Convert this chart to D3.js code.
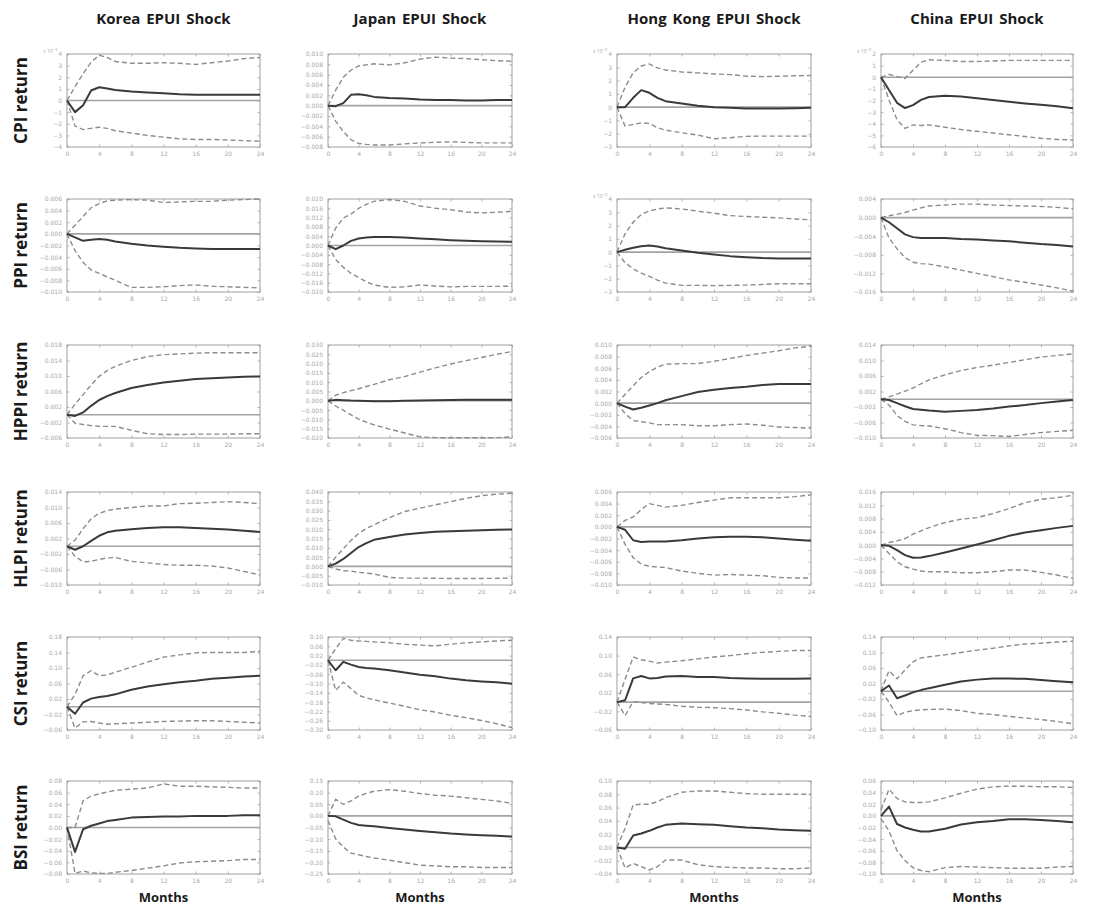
<!DOCTYPE html>
<html>
<head>
<meta charset="utf-8">
<script src="https://cdn.jsdelivr.net/npm/d3@7"></script>
<style>
  body { margin: 0; background: #fff; }
  svg text { font-family: "Open Sans", "Noto Sans", sans-serif; }
  .tick text { font-family: "DejaVu Sans", sans-serif; }
</style>
</head>
<body>
<div id="main"></div>
<script>
main = "#main"

// horizon (months) shared by every panel
const months = [0, 1, 2, 3, 4, 5, 6, 8, 10, 12, 14, 16, 18, 20, 22, 24]
const xTicks = [0, 4, 8, 12, 16, 20, 24]

const shocks = ["Korea EPUI Shock", "Japan EPUI Shock", "Hong Kong EPUI Shock", "China EPUI Shock"]
const variables = ["CPI return", "PPI return", "HPPI return", "HLPI return", "CSI return", "BSI return"]

// y axis per panel: [min, max, step, decimals]; columns Korea, Japan, Hong Kong, China
const cpiAxis = [[-4, 4, 1, 0], [-0.008, 0.010, 0.002, 3], [-3, 4, 1, 0], [-6, 2, 1, 0]]
const ppiAxis = [[-0.010, 0.006, 0.002, 3], [-0.020, 0.020, 0.004, 3], [-3, 4, 1, 0], [-0.016, 0.004, 0.004, 3]]
const hppiAxis = [[-0.006, 0.018, 0.004, 3], [-0.020, 0.030, 0.005, 3], [-0.006, 0.010, 0.002, 3], [-0.010, 0.014, 0.004, 3]]
const hlpiAxis = [[-0.010, 0.014, 0.004, 3], [-0.010, 0.040, 0.005, 3], [-0.010, 0.006, 0.002, 3], [-0.012, 0.016, 0.004, 3]]
const csiAxis = [[-0.06, 0.18, 0.04, 2], [-0.30, 0.10, 0.04, 2], [-0.06, 0.14, 0.04, 2], [-0.10, 0.14, 0.04, 2]]
const bsiAxis = [[-0.08, 0.08, 0.02, 2], [-0.25, 0.15, 0.05, 2], [-0.04, 0.10, 0.02, 2], [-0.10, 0.06, 0.02, 2]]

// panels whose axis carries a x10^-3 multiplier
const cpiSci = [true, false, true, true]
const ppiSci = [false, false, true, false]

// CPI
const cpiMid = [
  [0, -1.0, -0.4, 0.86, 1.14, 1.03, 0.9, 0.77, 0.69, 0.63, 0.54, 0.49, 0.49, 0.49, 0.49, 0.49],
  [0, -0.0001, 0.0005, 0.0021, 0.0022, 0.002, 0.0017, 0.0015, 0.0014, 0.0012, 0.0011, 0.0011, 0.001, 0.001, 0.0011, 0.0011],
  [0, 0, 0.7, 1.28, 1.08, 0.7, 0.45, 0.28, 0.1, 0, -0.05, -0.1, -0.1, -0.1, -0.08, -0.05],
  [0, -1.1, -2.2, -2.65, -2.4, -1.95, -1.7, -1.6, -1.66, -1.8, -1.95, -2.1, -2.25, -2.37, -2.5, -2.66]]
const cpiUp = [
  [0, 1.2, 2.3, 3.3, 3.9, 3.7, 3.35, 3.2, 3.2, 3.25, 3.2, 3.1, 3.25, 3.4, 3.6, 3.7],
  [0, 0.003, 0.0055, 0.0069, 0.0077, 0.0079, 0.0081, 0.0079, 0.0083, 0.009, 0.0094, 0.0092, 0.0091, 0.0089, 0.0087, 0.0086],
  [0, 1.5, 2.58, 3.1, 3.25, 2.95, 2.8, 2.65, 2.58, 2.5, 2.45, 2.33, 2.3, 2.33, 2.36, 2.38],
  [0, 0.25, 0.05, -0.1, 0.6, 1.3, 1.5, 1.45, 1.35, 1.35, 1.4, 1.45, 1.45, 1.45, 1.45, 1.45]]
const cpiLo = [
  [0, -2.2, -2.5, -2.4, -2.3, -2.4, -2.6, -2.8, -3.0, -3.15, -3.3, -3.35, -3.35, -3.4, -3.45, -3.5],
  [0, -0.003, -0.005, -0.0066, -0.0073, -0.0075, -0.0076, -0.0076, -0.0074, -0.0072, -0.0071, -0.007, -0.0071, -0.0072, -0.0072, -0.0072],
  [0, -1.43, -1.3, -1.18, -1.22, -1.55, -1.73, -1.93, -2.1, -2.38, -2.3, -2.2, -2.18, -2.18, -2.18, -2.18],
  [0, -1.95, -3.65, -4.4, -4.1, -4.15, -4.1, -4.3, -4.5, -4.65, -4.8, -4.95, -5.1, -5.25, -5.35, -5.4]]

// PPI
const ppiMid = [
  [0, -0.0006, -0.0012, -0.001, -0.0009, -0.001, -0.0013, -0.0017, -0.002, -0.0022, -0.0024, -0.0025, -0.0026, -0.0026, -0.0026, -0.0026],
  [0, -0.0016, 0, 0.002, 0.003, 0.0034, 0.0037, 0.0037, 0.0034, 0.003, 0.0027, 0.0023, 0.002, 0.0018, 0.0017, 0.0016],
  [0, 0.18, 0.33, 0.45, 0.5, 0.43, 0.3, 0.12, -0.05, -0.18, -0.3, -0.38, -0.45, -0.47, -0.48, -0.48],
  [0, -0.001, -0.0023, -0.0036, -0.0042, -0.0044, -0.0044, -0.0044, -0.0046, -0.0047, -0.0049, -0.0051, -0.0054, -0.0057, -0.0059, -0.0062]]
const ppiUp = [
  [0, 0.0015, 0.003, 0.0045, 0.0052, 0.0057, 0.0058, 0.0059, 0.0058, 0.0054, 0.0055, 0.0056, 0.0056, 0.0058, 0.0059, 0.006],
  [0, 0.0075, 0.0118, 0.0135, 0.016, 0.0177, 0.019, 0.0198, 0.019, 0.017, 0.016, 0.0154, 0.0144, 0.014, 0.0143, 0.0147],
  [0, 1.38, 2.25, 2.83, 3.1, 3.25, 3.33, 3.25, 3.08, 2.93, 2.75, 2.68, 2.63, 2.58, 2.5, 2.43],
  [0, 0.0004, 0.0007, 0.0011, 0.0016, 0.0021, 0.0025, 0.0027, 0.0029, 0.0029, 0.0027, 0.0026, 0.0025, 0.0024, 0.0022, 0.0019]]
const ppiLo = [
  [0, -0.0029, -0.0049, -0.0062, -0.0068, -0.0074, -0.008, -0.0092, -0.0092, -0.0091, -0.0089, -0.0088, -0.009, -0.0091, -0.0092, -0.0093],
  [0, -0.006, -0.0094, -0.012, -0.0138, -0.0156, -0.017, -0.018, -0.0178, -0.017, -0.0174, -0.0178, -0.0176, -0.0176, -0.0176, -0.0175],
  [0, -0.8, -1.25, -1.58, -1.83, -2.1, -2.33, -2.5, -2.5, -2.52, -2.5, -2.48, -2.43, -2.38, -2.38, -2.38],
  [0, -0.0044, -0.0067, -0.0086, -0.0096, -0.0099, -0.01, -0.0106, -0.0113, -0.012, -0.0127, -0.0134, -0.0139, -0.0145, -0.0151, -0.0158]]

// HPPI
const hppiMid = [
  [0, -0.0003, 0.0006, 0.0023, 0.0038, 0.0048, 0.0056, 0.0069, 0.0077, 0.0083, 0.0088, 0.0092, 0.0094, 0.0096, 0.0098, 0.0099],
  [0, 0.0005, 0.0003, 0.0001, 0, -0.0001, -0.0002, -0.0002, 0, 0.0002, 0.0003, 0.0004, 0.0005, 0.0005, 0.0005, 0.0005],
  [0, -0.0006, -0.0011, -0.0008, -0.0004, 0, 0.0005, 0.0012, 0.0019, 0.0023, 0.0026, 0.0028, 0.0031, 0.0033, 0.0033, 0.0033],
  [0, -0.0002, -0.001, -0.0018, -0.0025, -0.0027, -0.0029, -0.0032, -0.003, -0.0028, -0.0024, -0.0019, -0.0015, -0.001, -0.0006, -0.0002]]
const hppiUp = [
  [0, 0.0027, 0.0052, 0.0077, 0.0099, 0.0114, 0.0125, 0.014, 0.015, 0.0155, 0.0157, 0.0159, 0.016, 0.016, 0.016, 0.016],
  [0, 0.003, 0.0044, 0.0055, 0.0065, 0.0077, 0.0088, 0.0113, 0.013, 0.0154, 0.0177, 0.0198, 0.0216, 0.0233, 0.025, 0.0265],
  [0, 0.0015, 0.003, 0.0044, 0.0054, 0.0062, 0.0067, 0.0068, 0.0068, 0.0072, 0.0077, 0.0082, 0.0086, 0.009, 0.0095, 0.0098],
  [0, 0.0006, 0.0013, 0.0021, 0.0029, 0.004, 0.005, 0.0063, 0.0074, 0.0082, 0.0088, 0.0095, 0.0102, 0.0109, 0.0113, 0.0117]]
const hppiLo = [
  [0, -0.0022, -0.0025, -0.0028, -0.003, -0.003, -0.003, -0.004, -0.0049, -0.0051, -0.0051, -0.005, -0.005, -0.005, -0.0049, -0.0049],
  [0, -0.0028, -0.005, -0.0076, -0.0099, -0.0115, -0.0129, -0.0152, -0.0173, -0.0194, -0.0198, -0.0199, -0.0199, -0.0199, -0.0198, -0.0194],
  [0, -0.0018, -0.003, -0.0032, -0.0034, -0.0037, -0.0037, -0.0037, -0.0039, -0.0039, -0.0037, -0.0036, -0.0038, -0.0041, -0.0042, -0.0043],
  [0, -0.0015, -0.0042, -0.0057, -0.0066, -0.0068, -0.0069, -0.0076, -0.0086, -0.0093, -0.0094, -0.0096, -0.0091, -0.0086, -0.0083, -0.008]]

// HLPI
const hlpiMid = [
  [0, -0.0009, 0, 0.0014, 0.0027, 0.0036, 0.004, 0.0044, 0.0047, 0.0049, 0.0049, 0.0047, 0.0045, 0.0043, 0.004, 0.0037],
  [0, 0.0015, 0.004, 0.0072, 0.0104, 0.0125, 0.0143, 0.0158, 0.0171, 0.018, 0.0186, 0.0189, 0.0192, 0.0195, 0.0197, 0.0198],
  [0, -0.0005, -0.0023, -0.0026, -0.0025, -0.0025, -0.0025, -0.0023, -0.002, -0.0018, -0.0017, -0.0017, -0.0018, -0.002, -0.0022, -0.0024],
  [0, -0.0002, -0.0015, -0.003, -0.0038, -0.0037, -0.0033, -0.0022, -0.001, 0.0002, 0.0015, 0.0028, 0.0038, 0.0045, 0.0052, 0.0058]]
const hlpiUp = [
  [0, 0.0016, 0.0045, 0.0071, 0.0085, 0.0092, 0.0096, 0.01, 0.0104, 0.0104, 0.011, 0.0111, 0.0113, 0.0115, 0.0113, 0.011],
  [0, 0.005, 0.0095, 0.014, 0.0177, 0.0204, 0.0223, 0.0262, 0.0295, 0.0313, 0.0331, 0.0348, 0.0366, 0.038, 0.0388, 0.0393],
  [0, 0.0011, 0.0017, 0.003, 0.004, 0.0037, 0.0034, 0.0037, 0.0042, 0.0046, 0.005, 0.005, 0.005, 0.005, 0.0052, 0.0055],
  [0, 0.0008, 0.0013, 0.002, 0.0033, 0.0043, 0.0053, 0.0068, 0.0078, 0.0083, 0.0095, 0.011, 0.0128, 0.0138, 0.0143, 0.015]]
const hlpiLo = [
  [0, -0.0026, -0.004, -0.0039, -0.0034, -0.003, -0.0029, -0.0039, -0.0043, -0.0047, -0.0049, -0.0049, -0.0051, -0.0056, -0.0065, -0.0074],
  [0, -0.0014, -0.0023, -0.0025, -0.0032, -0.0036, -0.0041, -0.0059, -0.0063, -0.0063, -0.0064, -0.0065, -0.0065, -0.0065, -0.0064, -0.0063],
  [0, -0.003, -0.0053, -0.0064, -0.0068, -0.0069, -0.007, -0.0076, -0.008, -0.0083, -0.0082, -0.0083, -0.0084, -0.0087, -0.0088, -0.0088],
  [0, -0.0025, -0.005, -0.0065, -0.0072, -0.0078, -0.008, -0.008, -0.0083, -0.0083, -0.008, -0.0075, -0.0075, -0.0082, -0.009, -0.01]]

// CSI
const csiMid = [
  [0, -0.018, 0.011, 0.021, 0.025, 0.028, 0.032, 0.044, 0.052, 0.058, 0.063, 0.067, 0.072, 0.075, 0.078, 0.08],
  [0, -0.043, -0.007, -0.019, -0.029, -0.033, -0.036, -0.043, -0.053, -0.062, -0.069, -0.079, -0.086, -0.091, -0.095, -0.101],
  [0, 0.004, 0.051, 0.056, 0.051, 0.052, 0.055, 0.056, 0.054, 0.054, 0.052, 0.051, 0.05, 0.05, 0.05, 0.051],
  [0, 0.015, -0.018, -0.011, -0.003, 0.003, 0.008, 0.017, 0.025, 0.03, 0.033, 0.033, 0.032, 0.029, 0.026, 0.023]]
const csiUp = [
  [0, 0.032, 0.08, 0.093, 0.08, 0.082, 0.089, 0.102, 0.115, 0.128, 0.134, 0.139, 0.14, 0.14, 0.14, 0.143],
  [0, 0.05, 0.094, 0.086, 0.083, 0.081, 0.079, 0.075, 0.069, 0.065, 0.062, 0.069, 0.075, 0.079, 0.083, 0.086],
  [0, 0.049, 0.097, 0.091, 0.088, 0.084, 0.086, 0.089, 0.093, 0.097, 0.1, 0.104, 0.107, 0.109, 0.111, 0.111],
  [0, 0.053, 0.032, 0.055, 0.076, 0.086, 0.089, 0.094, 0.1, 0.106, 0.111, 0.117, 0.122, 0.124, 0.127, 0.129]]
const csiLo = [
  [0, -0.055, -0.039, -0.038, -0.042, -0.045, -0.044, -0.042, -0.04, -0.038, -0.037, -0.036, -0.036, -0.038, -0.04, -0.042],
  [0, -0.13, -0.094, -0.122, -0.151, -0.162, -0.17, -0.184, -0.198, -0.213, -0.223, -0.237, -0.247, -0.259, -0.273, -0.29],
  [0, -0.029, 0.001, -0.001, -0.003, -0.004, -0.005, -0.009, -0.011, -0.012, -0.014, -0.017, -0.021, -0.024, -0.028, -0.031],
  [0, -0.028, -0.063, -0.054, -0.05, -0.048, -0.047, -0.046, -0.05, -0.057, -0.06, -0.065, -0.069, -0.073, -0.078, -0.084]]

// BSI
const bsiMid = [
  [0, -0.042, -0.003, 0.003, 0.007, 0.011, 0.013, 0.017, 0.018, 0.019, 0.019, 0.02, 0.02, 0.02, 0.021, 0.021],
  [0, -0.002, -0.016, -0.03, -0.039, -0.042, -0.045, -0.052, -0.059, -0.065, -0.07, -0.076, -0.08, -0.083, -0.086, -0.089],
  [0, -0.002, 0.018, 0.021, 0.025, 0.03, 0.034, 0.036, 0.035, 0.034, 0.032, 0.03, 0.029, 0.027, 0.026, 0.025],
  [0, 0.016, -0.014, -0.02, -0.024, -0.027, -0.027, -0.022, -0.015, -0.011, -0.009, -0.006, -0.006, -0.007, -0.009, -0.011]]
const bsiUp = [
  [0, 0.0, 0.046, 0.054, 0.058, 0.061, 0.064, 0.066, 0.068, 0.075, 0.071, 0.071, 0.07, 0.069, 0.068, 0.068],
  [0, 0.071, 0.05, 0.064, 0.085, 0.097, 0.106, 0.113, 0.106, 0.096, 0.089, 0.085, 0.078, 0.071, 0.064, 0.054],
  [0, 0.029, 0.064, 0.065, 0.065, 0.069, 0.075, 0.083, 0.085, 0.085, 0.083, 0.081, 0.08, 0.08, 0.08, 0.08],
  [0.01, 0.046, 0.03, 0.024, 0.023, 0.023, 0.024, 0.031, 0.039, 0.046, 0.05, 0.051, 0.051, 0.05, 0.05, 0.049]]
const bsiLo = [
  [0, -0.079, -0.075, -0.078, -0.079, -0.079, -0.077, -0.074, -0.07, -0.066, -0.061, -0.059, -0.058, -0.057, -0.055, -0.055],
  [-0.02, -0.099, -0.134, -0.16, -0.167, -0.175, -0.181, -0.191, -0.201, -0.212, -0.215, -0.219, -0.219, -0.222, -0.222, -0.222],
  [0, -0.031, -0.024, -0.029, -0.034, -0.029, -0.019, -0.019, -0.026, -0.029, -0.03, -0.031, -0.031, -0.032, -0.032, -0.031],
  [-0.005, -0.026, -0.06, -0.077, -0.089, -0.094, -0.096, -0.089, -0.087, -0.088, -0.089, -0.09, -0.09, -0.09, -0.088, -0.087]]

const noSci = [false, false, false, false]
let rows = [
  {mid: cpiMid, up: cpiUp, lo: cpiLo, axis: cpiAxis, sci: cpiSci},
  {mid: ppiMid, up: ppiUp, lo: ppiLo, axis: ppiAxis, sci: ppiSci},
  {mid: hppiMid, up: hppiUp, lo: hppiLo, axis: hppiAxis, sci: noSci},
  {mid: hlpiMid, up: hlpiUp, lo: hlpiLo, axis: hlpiAxis, sci: noSci},
  {mid: csiMid, up: csiUp, lo: csiLo, axis: csiAxis, sci: noSci},
  {mid: bsiMid, up: bsiUp, lo: bsiLo, axis: bsiAxis, sci: noSci}
]

// layout of the small panels
let colLeft = [67, 328, 617, 881], colWidth = [193, 184, 194, 192]
let rowTop = [54, 199, 345, 492, 637, 781], panelHeight = 93

let svg = d3.select(main)
    .append("svg")
    .attr("width", 1099)
    .attr("height", 911)

// column titles
svg.selectAll("text.shock")
    .data(shocks)
    .enter()
    .append("text")
    .attr("class", "shock")
    .attr("x", (d, i) => colLeft[i] + colWidth[i] / 2)
    .attr("y", 24)
    .attr("text-anchor", "middle")
    .attr("font-size", "15px")
    .attr("font-weight", "bold")
    .attr("fill", "#1a1a1a")
    .attr("word-spacing", "2px")
    .text(d => d)

// row labels
svg.selectAll("text.variable")
    .data(variables)
    .enter()
    .append("text")
    .attr("class", "variable")
    .attr("transform", (d, i) => "translate(27," + (rowTop[i] + panelHeight / 2) + ") rotate(-90)")
    .attr("text-anchor", "middle")
    .attr("font-size", "17px")
    .attr("font-weight", "bold")
    .attr("fill", "#1a1a1a")
    .text(d => d)

// x axis titles
svg.selectAll("text.months")
    .data(shocks)
    .enter()
    .append("text")
    .attr("class", "months")
    .attr("x", (d, i) => colLeft[i] + colWidth[i] / 2)
    .attr("y", 902)
    .attr("text-anchor", "middle")
    .attr("font-size", "13px")
    .attr("font-weight", "bold")
    .attr("fill", "#1a1a1a")
    .text("Months")

rows.forEach((row, r) => {
    shocks.forEach((s, c) => {
        drawPanel(row, r, c)
    })
})

function drawPanel(row, r, c) {
    let w = colWidth[c], h = panelHeight
    let [yMin, yMax, step, dec] = row.axis[c]

    let g = svg.append("g")
        .attr("transform", "translate(" + colLeft[c] + "," + rowTop[r] + ")")

    let x = d3.scaleLinear().domain([0, 24]).range([0, w])
    let y = d3.scaleLinear().domain([yMin, yMax]).range([h, 0])

    let yTicks = d3.range(0, Math.round((yMax - yMin) / step) + 1).map(k => yMin + k * step)
    let fmt = d3.format("." + dec + "f")

    // axes with inward ticks, MATLAB style
    let bottom = g.append("g")
        .attr("transform", "translate(0," + h + ")")
        .call(d3.axisBottom(x).tickValues(xTicks).tickSize(-2.5).tickPadding(5))
    let left = g.append("g")
        .call(d3.axisLeft(y).tickValues(yTicks).tickSize(-2.5).tickPadding(5).tickFormat(fmt))
    g.append("g")
        .call(d3.axisTop(x).tickValues(xTicks).tickSize(-2.5).tickFormat(""))
    g.append("g")
        .attr("transform", "translate(" + w + ",0)")
        .call(d3.axisRight(y).tickValues(yTicks).tickSize(-2.5).tickFormat(""))

    g.selectAll(".domain").remove()
    g.selectAll(".tick line").attr("stroke", "#b5b5b5")
    g.selectAll(".tick text")
        .attr("font-size", "6px")
        .attr("fill", "#a8a8a8")

    // frame
    g.append("rect")
        .attr("width", w)
        .attr("height", h)
        .attr("fill", "none")
        .attr("stroke", "#a0a0a0")
        .attr("stroke-width", 1)

    if (row.sci[c]) {
        g.append("text")
            .attr("x", -24)
            .attr("y", -1)
            .attr("font-size", "5px")
            .attr("fill", "#a8a8a8")
            .attr("font-family", "DejaVu Sans")
            .text("x 10")
            .append("tspan")
            .attr("dy", -2)
            .attr("font-size", "4px")
            .text("\u22123")
    }

    // zero line
    g.append("line")
        .attr("x1", x(0))
        .attr("x2", x(24))
        .attr("y1", y(0))
        .attr("y2", y(0))
        .attr("stroke", "#a3a3a3")
        .attr("stroke-width", 1.6)

    let line = d3.line()
        .x((d, i) => x(months[i]))
        .y(d => y(d))

    g.append("path")
        .datum(row.up[c])
        .attr("d", line)
        .attr("fill", "none")
        .attr("stroke", "#8c8c8c")
        .attr("stroke-width", 1.4)
        .attr("stroke-dasharray", "5,3")

    g.append("path")
        .datum(row.lo[c])
        .attr("d", line)
        .attr("fill", "none")
        .attr("stroke", "#8c8c8c")
        .attr("stroke-width", 1.4)
        .attr("stroke-dasharray", "5,3")

    g.append("path")
        .datum(row.mid[c])
        .attr("d", line)
        .attr("fill", "none")
        .attr("stroke", "#3a3a3a")
        .attr("stroke-width", 2)
        .attr("stroke-linejoin", "round")
}
</script>
</body>
</html>
